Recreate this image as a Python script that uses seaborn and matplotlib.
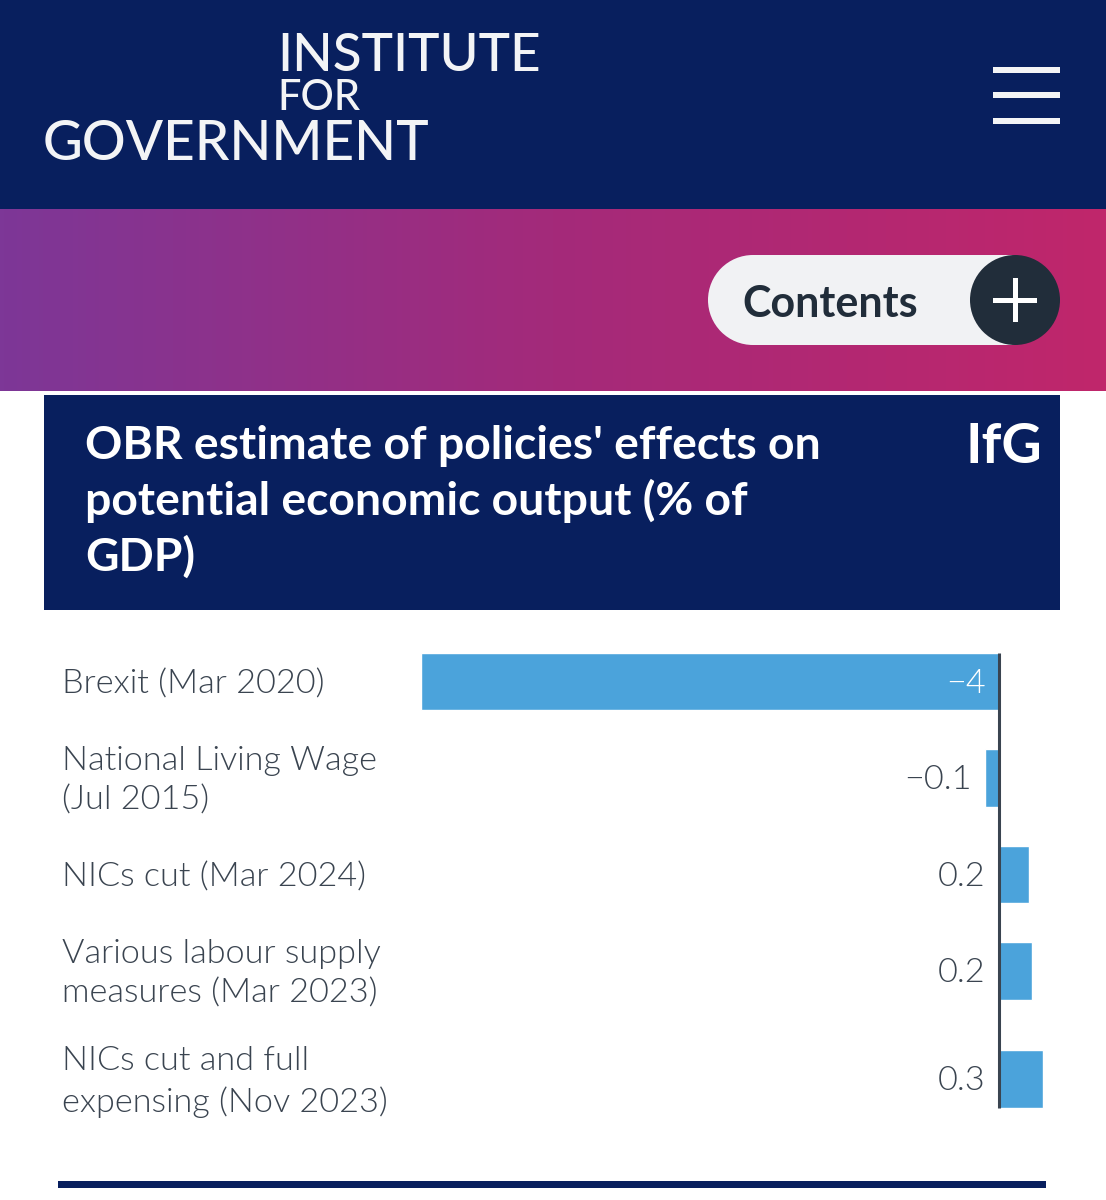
import numpy as np
import pandas as pd
import matplotlib
matplotlib.use("Agg")
import matplotlib.pyplot as plt
from matplotlib.patches import Rectangle, Circle
from matplotlib.transforms import ScaledTranslation
import seaborn as sns

# ---- data ----
categories = ["Brexit (Mar 2020)", "National Living Wage\n(Jul 2015)", "NICs cut (Mar 2024)",
              "Various labour supply\nmeasures (Mar 2023)", "NICs cut and full\nexpensing (Nov 2023)"]
values = [-4.0, -0.095, 0.205, 0.23, 0.305]
value_labels = ["\u22124", "\u22120.1", "0.2", "0.2", "0.3"]
row_positions = [0, 1, 2, 3, 4.12]
title = "OBR estimate of policies' effects on\npotential economic output (% of\nGDP)"

NAVY = "#081f5e"
BAR = "#4ba3db"
INK = "#3a4450"
W, H = 1106, 1200

sns.set_theme(style="white")
plt.rcParams["font.family"] = ["Lato", "DejaVu Sans"]

fig = plt.figure(figsize=(W / 100, H / 100), dpi=100, facecolor="white")

# page furniture, in pixel coordinates
bg = fig.add_axes([0, 0, 1, 1])
bg.set_xlim(0, W)
bg.set_ylim(H, 0)
bg.axis("off")
bg.add_patch(Rectangle((0, 0), W, 209, color=NAVY, lw=0))
grad = np.linspace(0, 1, 256).reshape(1, -1)
cmap = matplotlib.colors.LinearSegmentedColormap.from_list("g", ["#7d3797", "#a42a7a", "#c0266b"])
bg.imshow(grad, cmap=cmap, extent=(0, W, 391, 209), aspect="auto", zorder=1)
bg.set_xlim(0, W)
bg.set_ylim(H, 0)
bg.add_patch(Rectangle((44, 395), 1016, 215, color=NAVY, lw=0))
bg.add_patch(Rectangle((58, 1181), 988, 7, color=NAVY, lw=0))
for y in (67, 92, 118):
    bg.add_patch(Rectangle((993, y), 67, 6, color="#f3f4f6", lw=0))
bg.add_patch(Rectangle((753, 255), 262, 90, color="#f1f2f4", lw=0, zorder=2))
bg.add_patch(Circle((753, 300), 45, color="#f1f2f4", lw=0, zorder=2))
bg.add_patch(Circle((1015, 300), 45, color="#212d3a", lw=0, zorder=3))
bg.add_patch(Rectangle((993, 297.5), 44, 5, color="white", lw=0, zorder=4))
bg.add_patch(Rectangle((1012.5, 278), 5, 44, color="white", lw=0, zorder=4))

logo = dict(color="#f3f4f6", fontweight=500, va="baseline", ha="left")
bg.text(277, 71, "INSTITUTE", fontsize=38.2, **logo)
bg.text(277, 110, "FOR", fontsize=30, **logo)
bg.text(43, 160, "GOVERNMENT", fontsize=39.4, **logo)
bg.text(742, 317, "Contents", color="#212d3a", fontsize=31, fontweight="bold", va="baseline", zorder=5)
bg.text(85, 502, title, color="white", fontsize=33.3, fontweight="bold", va="center", ha="left", linespacing=1.34)
bg.text(1042, 463, "IfG", color="white", fontsize=40, fontweight="bold", va="baseline", ha="right")

# chart
left, right, top, bottom = 400, 1060, 640, 1120
px_per_unit = 144.5
px_per_row = 96.5
ax = fig.add_axes([left / W, 1 - bottom / H, (right - left) / W, (bottom - top) / H])
ax.patch.set_alpha(0)
df = pd.DataFrame({"row": row_positions, "value": values})
sns.barplot(data=df, x="value", y="row", orient="h", native_scale=True, color=BAR,
            saturation=1, width=0.595, ax=ax, legend=False)
ax.set_xlim(-(999 - left) / px_per_unit, (right - 999) / px_per_unit)
ax.set_ylim((bottom - 681.5) / px_per_row, (top - 681.5) / px_per_row)
ax.set_xlabel("")
ax.set_ylabel("")
ax.set_xticks([])
ax.set_yticks(row_positions, categories)
ax.tick_params(axis="y", length=0, pad=(left - 62) * 0.72, labelsize=24.7, labelcolor=INK)
shift = ScaledTranslation(0, -3 / 100, fig.dpi_scale_trans)
for t in ax.get_yticklabels():
    t.set_ha("left")
    t.set_va("center")
    t.set_fontweight(300)
    t.set_linespacing(1.4)
    t.set_transform(t.get_transform() + shift)
sns.despine(ax=ax, left=True, bottom=True)
ax.vlines(0, row_positions[0] - 0.295, row_positions[-1] + 0.295, color=INK, lw=2.2, zorder=5)

for r, v, lab in zip(row_positions, values, value_labels):
    inside = v < -1
    ax.annotate(lab, xy=(0 if inside else min(v, 0), r), xytext=(-9.7, -1.5), textcoords="offset points",
                ha="right", va="center", fontsize=24.7, fontweight=300,
                color="white" if inside else INK, zorder=6)

fig.savefig("out.png", dpi=100)
